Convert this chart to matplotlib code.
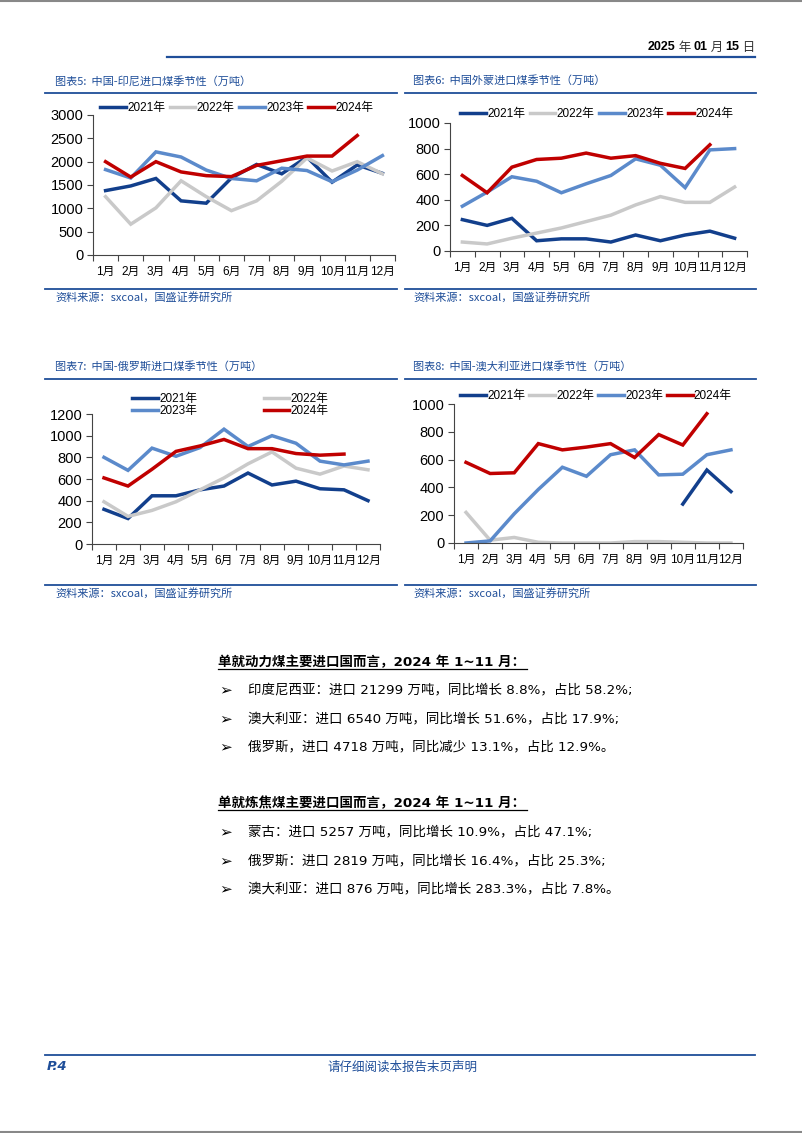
import numpy as np
import matplotlib
matplotlib.use("Agg")
import matplotlib.pyplot as plt
from matplotlib.lines import Line2D
from matplotlib import font_manager

W, H = 802, 1133
names = {f.name for f in font_manager.fontManager.ttflist}
NARROW = "Liberation Sans Narrow" if "Liberation Sans Narrow" in names else "Liberation Sans"
CJK = "Noto Sans CJK SC"
plt.rcParams['font.family'] = [NARROW, CJK, 'DejaVu Sans']

months = ["1月", "2月", "3月", "4月", "5月", "6月", "7月", "8月", "9月", "10月", "11月", "12月"]
years = ["2021年", "2022年", "2023年", "2024年"]
nan = np.nan

# 图表5 印尼
indo_2021 = [1380, 1480, 1640, 1160, 1110, 1650, 1940, 1740, 2100, 1560, 1930, 1750]
indo_2022 = [1250, 660, 1010, 1590, 1250, 950, 1160, 1580, 2080, 1800, 2000, 1740]
indo_2023 = [1830, 1650, 2210, 2100, 1820, 1640, 1590, 1860, 1810, 1570, 1820, 2130]
indo_2024 = [2000, 1670, 2000, 1780, 1700, 1680, 1920, 2020, 2120, 2120, 2560, nan]

# 图表6 外蒙
mong_2021 = [245, 200, 255, 80, 95, 95, 70, 125, 80, 125, 155, 100]
mong_2022 = [70, 55, 100, 140, 180, 230, 280, 360, 425, 380, 380, 500]
mong_2023 = [350, 460, 580, 545, 455, 525, 590, 720, 670, 495, 790, 800]
mong_2024 = [590, 455, 655, 715, 725, 765, 725, 745, 685, 645, 830, nan]

# 图表7 俄罗斯
rus_2021 = [320, 235, 445, 445, 500, 535, 655, 545, 580, 510, 500, 400]
rus_2022 = [390, 255, 310, 390, 500, 610, 740, 850, 700, 645, 720, 685]
rus_2023 = [800, 680, 885, 810, 890, 1060, 900, 1000, 930, 765, 730, 765]
rus_2024 = [610, 535, 690, 855, 905, 965, 880, 880, 835, 820, 830, nan]

# 图表8 澳大利亚
aus_2021 = [nan, nan, nan, nan, nan, nan, nan, nan, nan, 280, 525, 370]
aus_2022 = [220, 20, 40, 5, 0, 0, 0, 10, 10, 5, 0, 0]
aus_2023 = [0, 15, 210, 385, 545, 480, 635, 670, 490, 495, 635, 670]
aus_2024 = [580, 500, 505, 715, 670, 690, 715, 615, 780, 705, 930, nan]

colors = ["#123F8C", "#C9C9C9", "#5B8ACB", "#C00000"]
BLUE = "#1F4E99"

fig = plt.figure(figsize=(W / 100, H / 100), dpi=100)
fig.patch.set_facecolor("white")


def fx(x):
    return x / W


def fy(y):
    return 1 - y / H


def hline(x0, x1, y, color=BLUE, lw=1.3):
    fig.add_artist(Line2D([fx(x0), fx(x1)], [fy(y), fy(y)], color=color, lw=lw,
                          transform=fig.transFigure))


def make_chart(l, t, r, b, ymax, ystep, series, title, tx, ty, line_x0, line_x1,
               line_y, src_line_y, leg_cfg):
    ax = fig.add_axes([fx(l), fy(b), fx(r - l), (b - t) / H])
    x = np.arange(12)
    handles = []
    for s, c, lab in zip(series, colors, years):
        h, = ax.plot(x, s, color=c, lw=2.5, label=lab, solid_joinstyle='miter')
        handles.append(h)
    ax.set_xlim(-0.5, 11.5)
    ax.set_ylim(0, ymax)
    ax.set_yticks(np.arange(0, ymax + 1, ystep))
    ax.set_xticks(x)
    ax.set_xticklabels(months)
    ax.set_xticks(np.arange(-0.5, 12, 1), minor=True)
    ax.tick_params(axis='x', which='major', length=0, pad=8, labelsize=8.5)
    ax.tick_params(axis='x', which='minor', length=4, direction='out', color='#444444', width=0.8)
    ax.tick_params(axis='y', length=4, direction='out', color='#444444', width=0.8, labelsize=10.5, pad=3)
    for sp in ['top', 'right']:
        ax.spines[sp].set_visible(False)
    for sp in ['left', 'bottom']:
        ax.spines[sp].set_color('#444444')
        ax.spines[sp].set_linewidth(0.8)
    fig.text(fx(tx), fy(ty), title, color=BLUE, fontsize=8, style='italic',
             family=[CJK, 'DejaVu Sans'], va='center', ha='left')
    hline(line_x0, line_x1, line_y)
    hline(line_x0, line_x1, src_line_y)
    fig.text(fx(tx), fy(src_line_y + 8), "资料来源：sxcoal，国盛证券研究所", color=BLUE,
             fontsize=8, style='italic', family=[CJK, 'DejaVu Sans'], va='center', ha='left')
    order, ncol, bx, by, colsp = leg_cfg
    fig.legend([handles[i] for i in order], [years[i] for i in order], ncol=ncol,
               frameon=False, loc='center left', bbox_to_anchor=(fx(bx), fy(by)),
               bbox_transform=fig.transFigure, fontsize=8.5, handlelength=2.2,
               handletextpad=0.12, columnspacing=colsp, labelspacing=0.05,
               borderaxespad=0, borderpad=0)
    return ax


make_chart(93, 115, 395, 255, 3000, 500, [indo_2021, indo_2022, indo_2023, indo_2024],
           "图表5:  中国-印尼进口煤季节性（万吨）", 55, 81, 45, 397, 93, 289,
           ([0, 1, 2, 3], 4, 100, 108, 0.35))
make_chart(450, 123, 747, 251, 1000, 200, [mong_2021, mong_2022, mong_2023, mong_2024],
           "图表6:  中国外蒙进口煤季节性（万吨）", 413, 81, 405, 756, 93, 289,
           ([0, 1, 2, 3], 4, 460, 114, 0.35))
make_chart(92, 414, 380, 544, 1200, 200, [rus_2021, rus_2022, rus_2023, rus_2024],
           "图表7:  中国-俄罗斯进口煤季节性（万吨）", 55, 366, 45, 397, 379, 585,
           ([0, 2, 1, 3], 2, 132, 405, 5.6))
make_chart(454, 404, 743, 543, 1000, 200, [aus_2021, aus_2022, aus_2023, aus_2024],
           "图表8:  中国-澳大利亚进口煤季节性（万吨）", 413, 366, 405, 756, 379, 585,
           ([0, 1, 2, 3], 4, 460, 396, 0.3))

# page borders
hline(0, W, 0.8, color="#888888", lw=1.5)
hline(0, W, H - 1.5, color="#888888", lw=1.5)

# header: bold digits, light CJK characters, laid out right to left
hline(167, 755, 57, color=BLUE, lw=1.6)
date_parts = [("2025", True), (" 年 ", False), ("01", True), (" 月 ", False), ("15", True), (" 日", False)]
fig.canvas.draw()
rend = fig.canvas.get_renderer()
xr = 755.0
for txt, bold in reversed(date_parts):
    t = fig.text(fx(xr), fy(47), txt, fontsize=9, ha='right', va='center',
                 weight='bold' if bold else 'normal',
                 family=['Liberation Sans', CJK] if bold else [CJK],
                 color='black' if bold else '#333333')
    bb = t.get_window_extent(rend)
    xr -= bb.width

# footer
hline(45, 755, 1055, color=BLUE, lw=1.3)
fig.text(fx(47), fy(1067), "P.4", fontsize=9.5, weight='bold', style='italic', color=BLUE,
         family=['DejaVu Sans'], va='center', ha='left')
fig.text(fx(402), fy(1067), "请仔细阅读本报告末页声明", fontsize=9, style='italic', color=BLUE,
         family=[CJK, 'DejaVu Sans'], va='center', ha='center')

# body text
headings = [("单就动力煤主要进口国而言，2024 年 1~11 月：", 662),
            ("单就炼焦煤主要进口国而言，2024 年 1~11 月：", 803)]
bullets = [("印度尼西亚：进口 21299 万吨，同比增长 8.8%，占比 58.2%;", 690),
           ("澳大利亚：进口 6540 万吨，同比增长 51.6%，占比 17.9%;", 719),
           ("俄罗斯，进口 4718 万吨，同比减少 13.1%，占比 12.9%。", 747),
           ("蒙古：进口 5257 万吨，同比增长 10.9%，占比 47.1%;", 832),
           ("俄罗斯：进口 2819 万吨，同比增长 16.4%，占比 25.3%;", 861),
           ("澳大利亚：进口 876 万吨，同比增长 283.3%，占比 7.8%。", 889)]

head_texts = []
for txt, y in headings:
    t = fig.text(fx(218), fy(y), txt, fontsize=9.7, weight='bold', ha='left', va='center',
                 family=['DejaVu Sans', CJK], color='black')
    head_texts.append((t, y))
for txt, y in bullets:
    fig.text(fx(219), fy(y), "➢", fontsize=11, ha='left', va='center',
             family=['DejaVu Sans'], color='black')
    fig.text(fx(248), fy(y), txt, fontsize=9.7, ha='left', va='center',
             family=['DejaVu Sans', CJK], color='black')

fig.canvas.draw()
r = fig.canvas.get_renderer()
for t, y in head_texts:
    bb = t.get_window_extent(r)
    hline(218, bb.x1 + 2, y + 7, color='black', lw=0.9)

fig.savefig("out.png", dpi=100, facecolor='white')
